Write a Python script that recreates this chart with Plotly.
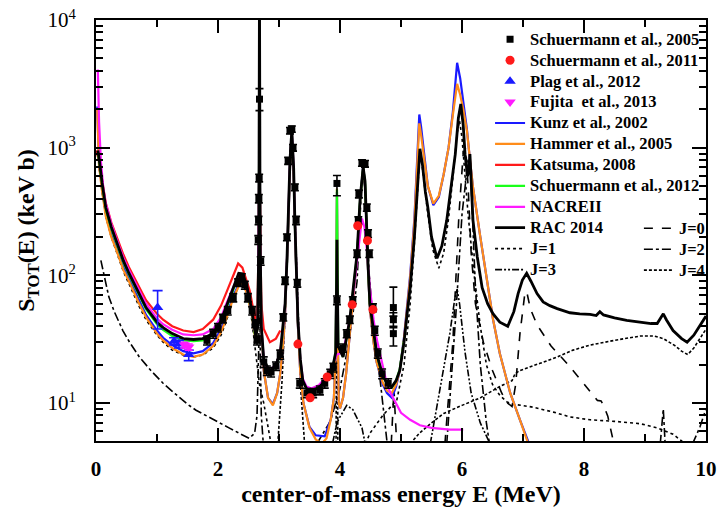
import plotly.graph_objects as go

# ---------------- data (E in MeV, S in keV b) ----------------
G = (None, None)

kunz_2002 = [(0.02, 2100), (0.05, 760), (0.1, 480), (0.16, 305), (0.25, 210), (0.33, 168), (0.45, 116),
             (0.54, 95), (0.7, 64), (0.82, 49), (1.0, 37), (1.1, 32.5), (1.25, 28.5), (1.43, 25.5), (1.6, 24.5),
             (1.75, 25.5), (1.92, 29.5), (2.05, 38), (2.13, 47), (2.25, 69), (2.36, 89), (2.42, 87), (2.48, 72),
             (2.55, 51), (2.62, 31), (2.65, 40), (2.67, 300), (2.68, 1800), (2.69, 300), (2.71, 40), (2.75, 18),
             (2.82, 11), (2.90, 9.8), (2.97, 12), (3.02, 17), (3.07, 30), (3.10, 50), (3.13, 110), (3.15, 230),
             (3.18, 700), (3.21, 1250), (3.24, 600), (3.26, 230), (3.29, 80), (3.31, 40), (3.35, 17), (3.40, 10),
             (3.5, 6.5), (3.6, 5.6), (3.75, 5.5), (3.85, 7.5), (3.9, 11), (3.93, 25), (3.945, 200), (3.95, 450),
             (3.955, 200), (3.965, 30), (3.98, 10), (4.0, 9.1), (4.05, 11), (4.1, 17), (4.16, 35), (4.22, 70),
             (4.28, 140), (4.33, 380), (4.38, 720), (4.41, 520), (4.43, 260), (4.46, 110), (4.49, 55), (4.55, 30),
             (4.60, 21), (4.70, 14), (4.77, 12), (4.85, 11), (4.92, 13.5), (4.98, 18), (5.05, 33), (5.10, 58),
             (5.15, 100), (5.22, 280), (5.27, 1000), (5.30, 1820), (5.33, 1450), (5.38, 850), (5.44, 500),
             (5.53, 355), (5.62, 410), (5.70, 620), (5.78, 1000), (5.85, 1900), (5.92, 4620), (5.97, 3500),
             (6.02, 2300), (6.08, 1400), (6.13, 800), (6.18, 490), (6.30, 200), (6.41, 91), (6.51, 45),
             (6.62, 24.5), (6.79, 12), (6.95, 7.4), (7.1, 4.8)]

hammer_2005 = [(0.02, 2000), (0.05, 720), (0.1, 455), (0.16, 290), (0.25, 200), (0.33, 160), (0.45, 110),
               (0.54, 90), (0.7, 61), (0.82, 47), (1.0, 35), (1.1, 31), (1.25, 27), (1.43, 24), (1.6, 23),
               (1.75, 24), (1.92, 28), (2.05, 36), (2.13, 45), (2.25, 66), (2.36, 87), (2.42, 85), (2.48, 70),
               (2.55, 50), (2.62, 30), (2.65, 40), (2.67, 300), (2.68, 1500), (2.69, 300), (2.71, 40), (2.75, 18),
               (2.82, 11), (2.90, 9.6), (2.97, 12), (3.02, 17), (3.07, 30), (3.10, 50), (3.13, 110), (3.15, 230),
               (3.18, 700), (3.21, 1200), (3.24, 600), (3.26, 230), (3.29, 80), (3.31, 40), (3.35, 17), (3.40, 10),
               (3.5, 6.4), (3.6, 5.2), (3.7, 4.8), (3.78, 5.3), (3.85, 7.5), (3.9, 11), (3.93, 25), (3.945, 200),
               (3.95, 480), (3.955, 200), (3.965, 30), (3.98, 10), (4.0, 9.1), (4.05, 11), (4.1, 17), (4.16, 35),
               (4.22, 70), (4.28, 140), (4.33, 380), (4.38, 700), (4.41, 520), (4.43, 260), (4.46, 110),
               (4.49, 55), (4.55, 30), (4.60, 21), (4.70, 14.5), (4.77, 12.5), (4.85, 12), (4.92, 14), (4.98, 18),
               (5.05, 32), (5.10, 55), (5.15, 95), (5.22, 260), (5.27, 900), (5.30, 1550), (5.33, 1250),
               (5.38, 800), (5.44, 500), (5.53, 365), (5.62, 420), (5.70, 620), (5.78, 1000), (5.85, 1800),
               (5.92, 3160), (5.97, 2600), (6.02, 2000), (6.08, 1360), (6.13, 790), (6.18, 490), (6.30, 200),
               (6.41, 91), (6.51, 45), (6.62, 24.5), (6.79, 12), (6.95, 7.4), (7.08, 4.9), (7.12, 4.6)]

katsuma_2008 = [(0.0, 950), (0.05, 800), (0.1, 560), (0.16, 370), (0.25, 260), (0.33, 205), (0.45, 145),
                (0.54, 116), (0.7, 82), (0.82, 64), (1.0, 50), (1.1, 45), (1.25, 40), (1.43, 37), (1.6, 36),
                (1.75, 38), (1.92, 45), (2.05, 58), (2.13, 72), (2.25, 100), (2.33, 124), (2.40, 115), (2.46, 95),
                (2.52, 76), (2.61, 45), (2.65, 60), (2.67, 300), (2.68, 1500), (2.69, 300), (2.71, 60),
                (2.75, 38), (2.85, 30), (2.95, 32), (3.02, 37)]

schuermann_2012 = [(0.03, 900), (0.05, 800), (0.1, 515), (0.16, 330), (0.25, 232), (0.33, 181), (0.45, 126),
                   (0.54, 101), (0.7, 71), (0.82, 54.5), (1.0, 41.5), (1.1, 37.5), (1.25, 33.5), (1.43, 31),
                   (1.6, 30.5), (1.75, 31), (1.92, 34), (2.05, 43), (2.13, 54), (2.25, 78), (2.34, 100),
                   (2.40, 99), (2.46, 84), (2.55, 52), (2.62, 31), (2.65, 40), (2.67, 250), (2.68, 1600),
                   (2.69, 250), (2.71, 40), (2.75, 21), (2.85, 17), (2.95, 19.5), (3.02, 24), (3.07, 39),
                   (3.10, 58), (3.13, 125), (3.15, 260), (3.18, 780), (3.21, 1330), (3.24, 680), (3.26, 260),
                   (3.29, 97), (3.31, 44), (3.35, 21.5), (3.39, 15), (3.45, 13), (3.53, 12.4), (3.65, 13),
                   (3.79, 15.3), (3.88, 19), (3.93, 25), (3.945, 200), (3.95, 470), (3.955, 200), (3.97, 28),
                   (4.05, 23), (4.16, 44), (4.22, 78), (4.28, 145), (4.33, 390), (4.38, 690), (4.41, 540),
                   (4.43, 265), (4.46, 118), (4.49, 59), (4.55, 34), (4.60, 24), (4.70, 16.3), (4.77, 14.2),
                   (4.85, 13.3), (4.92, 15), (4.98, 18.5), (5.05, 31)]

nacre2 = [(0.03, 4100), (0.05, 1600), (0.08, 790), (0.12, 480), (0.16, 365), (0.25, 255), (0.33, 197),
          (0.45, 137), (0.54, 110), (0.7, 77), (0.82, 60), (1.0, 46), (1.1, 41.5), (1.25, 37.5), (1.43, 34.5),
          (1.6, 34), (1.75, 34.5), (1.92, 38), (2.05, 47), (2.13, 59), (2.25, 82), (2.34, 102), (2.40, 100),
          (2.46, 85), (2.55, 54), (2.62, 33), (2.65, 40), (2.67, 250), (2.68, 1400), (2.69, 250), (2.71, 40),
          (2.75, 22), (2.82, 17.5), (2.95, 20), (3.02, 25), (3.07, 40), (3.10, 60), (3.13, 130), (3.15, 270),
          (3.18, 800), (3.21, 1350), (3.24, 700), (3.26, 270), (3.29, 100), (3.31, 45), (3.35, 22),
          (3.39, 15.5), (3.45, 13.5), (3.53, 13), (3.65, 13.8), (3.79, 16.3), (3.88, 20), (3.95, 24),
          (4.05, 25), (4.16, 45), (4.22, 75), (4.28, 130), (4.32, 210), (4.36, 279), (4.40, 240), (4.44, 160),
          (4.49, 80), (4.55, 45), (4.60, 32), (4.70, 19), (4.77, 14), (4.82, 12.2), (4.87, 11), (4.95, 9.5),
          (5.0, 8.4), (5.15, 7.4), (5.31, 6.7), (5.5, 6.4), (5.64, 6.3), (5.8, 6.2), (6.02, 6.2)]

rac_2014 = [(0.03, 950), (0.05, 830), (0.1, 530), (0.16, 340), (0.25, 240), (0.33, 187), (0.45, 130),
            (0.54, 104), (0.7, 73), (0.82, 56), (1.0, 43), (1.1, 39), (1.25, 35), (1.43, 32), (1.6, 31.5),
            (1.75, 32), (1.92, 35), (2.05, 44), (2.13, 56), (2.25, 80), (2.34, 104), (2.40, 103), (2.46, 87),
            (2.55, 55), (2.62, 33), (2.65, 40), (2.67, 200), (2.68, 20000), (2.69, 200), (2.71, 40), (2.75, 22),
            (2.85, 17.5), (2.95, 20), (3.02, 24.5), (3.07, 40), (3.10, 60), (3.13, 130), (3.15, 270),
            (3.18, 800), (3.21, 1360), (3.24, 700), (3.26, 270), (3.29, 100), (3.31, 45), (3.35, 22),
            (3.39, 15), (3.45, 13), (3.53, 12.6), (3.65, 13.2), (3.79, 15.5), (3.88, 19), (3.93, 25),
            (3.945, 100), (3.95, 190), (3.955, 100), (3.97, 28), (4.05, 23), (4.16, 45), (4.22, 80),
            (4.28, 148), (4.33, 400), (4.38, 700), (4.41, 550), (4.43, 270), (4.46, 120), (4.49, 60),
            (4.55, 35), (4.60, 24.5), (4.70, 16.5), (4.77, 14.3), (4.85, 13.4), (4.92, 15), (4.98, 18),
            (5.05, 30), (5.10, 50), (5.15, 80), (5.22, 200), (5.27, 550), (5.31, 980), (5.35, 750),
            (5.40, 450), (5.44, 340), (5.50, 200), (5.59, 136), (5.67, 170), (5.75, 270), (5.82, 480),
            (5.89, 890), (5.94, 1700), (5.98, 2200), (6.02, 1500), (6.05, 890), (6.09, 600), (6.11, 650),
            (6.13, 890), (6.15, 500), (6.18, 270), (6.25, 140), (6.33, 80), (6.42, 60), (6.51, 50),
            (6.62, 43), (6.75, 40), (6.85, 52), (6.92, 72), (6.99, 92), (7.06, 104), (7.13, 90), (7.23, 72),
            (7.33, 62), (7.44, 58), (7.56, 55), (7.77, 51), (7.93, 50), (8.1, 49.5), (8.2, 48.5), (8.26, 52),
            (8.32, 49), (8.5, 46.5), (8.7, 44.5), (8.92, 43), (9.1, 42), (9.2, 42), (9.26, 47), (9.3, 50),
            (9.35, 45), (9.46, 37), (9.6, 32), (9.69, 30), (9.8, 34), (9.95, 44), (10.0, 48)]

j0 = [(4.84, 4.8), (4.87, 9), (4.885, 13), (4.9, 9), (4.93, 4.8), G,
      (5.72, 4.8), (5.85, 30), (5.95, 300), (6.02, 900), (6.06, 1000), (6.1, 500), (6.15, 150), (6.22, 60),
      (6.35, 30), (6.5, 18), (6.65, 12), (6.75, 10), (6.82, 9.4), (6.88, 14), (6.95, 35), (7.03, 72),
      (7.06, 75), (7.12, 55), (7.23, 41), (7.46, 28), (7.74, 20), (8.07, 13), (8.22, 10.5), (8.28, 10.4),
      (8.32, 9.6), (8.39, 7.9), (8.49, 4.8)]

j1 = [(0.03, 950), (0.05, 700), (0.1, 450), (0.16, 290), (0.25, 200), (0.33, 155), (0.45, 107), (0.54, 86),
      (0.7, 58), (0.82, 45), (1.0, 34), (1.1, 30), (1.25, 26), (1.43, 23.8), (1.6, 23), (1.75, 23.8),
      (1.92, 27), (2.05, 34), (2.13, 43), (2.25, 64), (2.36, 88), (2.42, 86), (2.48, 70), (2.55, 46),
      (2.62, 25), (2.68, 14), (2.75, 10), (2.82, 6.5), (2.87, 4.8), G,
      (4.42, 4.8), (4.49, 5.8), (4.7, 8), (4.93, 10.5), (5.05, 20), (5.15, 60), (5.22, 180), (5.27, 500),
      (5.31, 920), (5.35, 700), (5.40, 420), (5.44, 300), (5.52, 160), (5.62, 114), (5.70, 150), (5.78, 280),
      (5.86, 650), (5.92, 1300), (5.96, 1620), (6.0, 1200), (6.05, 600), (6.1, 300), (6.2, 100), (6.3, 40),
      (6.4, 20), (6.5, 14), (6.62, 11.5), (6.74, 10.2), (6.85, 9.8), (7.0, 9.5), (7.16, 9.3), (7.5, 8.5),
      (7.77, 7.8), (8.1, 7.4), (8.5, 7.2), (8.92, 6.9), (9.2, 6.4), (9.46, 5.7), (9.6, 5.1), (9.66, 4.8)]

j2 = [(0.08, 131), (0.14, 95), (0.21, 68), (0.3, 52), (0.44, 37), (0.55, 30), (0.71, 23), (0.9, 18),
      (1.1, 14.3), (1.3, 11.8), (1.5, 9.8), (1.64, 8.8), (1.9, 7.5), (2.18, 6.4), (2.35, 5.8), (2.51, 5.3),
      (2.6, 5.8), (2.64, 8), (2.67, 30), (2.68, 3000), (2.69, 30), (2.71, 8), (2.74, 5), (2.77, 4.5), G,
      (3.62, 4.8), (3.84, 7.2), (4.0, 13), (4.11, 24.5), (4.2, 45), (4.28, 90), (4.33, 300), (4.37, 650),
      (4.41, 480), (4.44, 270), (4.48, 100), (4.55, 40), (4.61, 24.5), (4.7, 10), (4.77, 5), (4.8, 4.5), G,
      (5.75, 4.8), (5.9, 50), (6.0, 300), (6.1, 800), (6.13, 890), (6.16, 400), (6.22, 80), (6.3, 20),
      (6.4, 7), (6.45, 4.8), G,
      (9.25, 4.8), (9.3, 9), (9.33, 4.8), G,
      (9.78, 4.8), (9.9, 6.5), (10.0, 9)]

j3 = [(3.88, 4.9), (3.95, 7), (4.0, 7.8), (4.11, 9.6), (4.21, 8.9), (4.36, 6.4), (4.41, 4.9), G,
      (5.48, 4.8), (5.6, 10), (5.7, 18), (5.8, 35), (5.88, 65), (5.92, 78), (5.96, 60), (6.05, 25),
      (6.15, 12), (6.3, 7), (6.46, 4.8)]

j4 = [(2.98, 4.8), (3.05, 15), (3.1, 50), (3.15, 250), (3.18, 750), (3.21, 1300), (3.24, 650), (3.27, 220),
      (3.31, 50), (3.36, 12), (3.42, 4.8), G,
      (3.935, 4.8), (3.945, 60), (3.95, 180), (3.955, 60), (3.965, 4.8), G,
      (5.15, 4.8), (5.3, 5.8), (5.5, 7), (5.7, 8.3), (6.0, 9.6), (6.3, 11), (6.62, 13.5), (6.82, 15),
      (6.87, 17), (6.95, 18), (7.28, 20.5), (7.56, 23), (7.82, 26), (8.1, 28.5), (8.5, 31), (8.92, 33.5),
      (9.15, 33.5), (9.3, 32), (9.5, 28), (9.6, 25.5), (9.7, 24), (9.8, 27), (9.9, 32), (10.0, 38)]

# experimental data: (E, S, err+, err-)
schuermann_2005 = [(1.82, 31, 2.5, 2.5), (1.92, 35, 2.8, 2.8), (2.0, 39, 3, 3), (2.08, 46, 3.5, 3.5),
                   (2.16, 53, 4, 4), (2.25, 67, 5, 5), (2.33, 88, 6, 6), (2.39, 96, 7, 7), (2.44, 84, 6, 6),
                   (2.49, 67, 5, 5), (2.56, 53, 4, 4), (2.61, 42, 3, 3), (2.64, 31, 2.5, 2.5),
                   (2.66, 190, 15, 15), (2.665, 270, 20, 20), (2.67, 400, 30, 30), (2.675, 580, 40, 40),
                   (2.68, 2400, 500, 450), (2.70, 130, 10, 10), (2.75, 21, 2, 2), (2.8, 18, 1.5, 1.5),
                   (2.87, 17.5, 1.5, 1.5), (2.95, 19.5, 1.5, 1.5), (3.02, 24, 2, 2), (3.07, 47, 3, 3),
                   (3.10, 91, 6, 6), (3.13, 199, 12, 12), (3.15, 790, 50, 50), (3.18, 1360, 80, 80),
                   (3.21, 1400, 80, 80), (3.23, 1000, 60, 60), (3.26, 490, 30, 30), (3.28, 270, 20, 20),
                   (3.30, 87, 6, 6), (3.34, 14.3, 1.2, 1.2), (3.46, 12, 1, 1), (3.56, 12, 1, 1),
                   (3.67, 12.6, 1, 1), (3.75, 14.3, 1.2, 1.2), (3.84, 17, 1.4, 1.4), (3.89, 19, 1.5, 1.5),
                   (3.95, 525, 80, 105), (3.95, 64, 5, 5), (4.05, 27, 2, 2), (4.11, 35, 2.5, 2.5),
                   (4.16, 45, 3, 3), (4.21, 64, 4, 4), (4.28, 148, 10, 10), (4.30, 270, 18, 18),
                   (4.31, 435, 30, 30), (4.36, 760, 45, 45), (4.41, 750, 45, 45), (4.44, 340, 22, 22),
                   (4.46, 213, 15, 15), (4.48, 148, 10, 10), (4.54, 56, 4, 4), (4.57, 37, 3, 3),
                   (4.62, 24.5, 2, 2), (4.69, 17, 1.5, 1.5), (4.79, 14.3, 1.2, 1.2), (4.875, 56, 25, 8),
                   (4.875, 45, 6, 6), (4.875, 35, 5, 7)]

schuermann_2011 = [(3.31, 29), (3.51, 11), (3.79, 16), (4.20, 59), (4.29, 245), (4.45, 187), (4.54, 54)]

plag_2012 = [(1.01, 56, 20, 18), (1.28, 30.5, 2, 2), (1.36, 29, 2, 2), (1.52, 24, 2, 2.5)]

fujita_2013 = [(1.45, 28.5, 1.5, 1.5), (1.52, 27.5, 1.5, 1.5)]

x_tick_vals = [0, 2, 4, 6, 8, 10]
x_tick_text = ["0", "2", "4", "6", "8", "10"]
y_tick_vals = [10, 100, 1000, 10000]
y_tick_text = ["10<sup>1</sup>", "10<sup>2</sup>", "10<sup>3</sup>", "10<sup>4</sup>"]
y_minor_vals = [6, 7, 8, 9, 20, 30, 40, 50, 60, 70, 80, 90, 200, 300, 400, 500, 600, 700, 800, 900,
                2000, 3000, 4000, 5000, 6000, 7000, 8000, 9000]

FONT = "Liberation Serif, Times New Roman, serif"
LEG_TEXT = "<span style='font-size:16.5px'><b>%s</b></span>"


def col(rows, i):
    return [r[i] for r in rows]


fig = go.Figure()

# theoretical J components (thin black)
j_styles = [
    ("J=0", j0, "dash", "legend2", 30),
    ("J=1", j1, "dot", "legend", 11),
    ("J=2", j2, "dashdot", "legend2", 31),
    ("J=3", j3, "7px,2px,2px,2px,2px,2px", "legend", 12),
    ("J=4", j4, "3px,2px", "legend2", 32),
]
for name, rows, dash, leg, rank in j_styles:
    fig.add_trace(go.Scatter(x=col(rows, 0), y=col(rows, 1), mode="lines", name=LEG_TEXT % name,
                             line=dict(color="black", width=1.6, dash=dash), connectgaps=False,
                             legend=leg, legendrank=rank))

models = [
    ("Kunz et al., 2002", kunz_2002, "#1a1aff", 2.2, 5),
    ("Hammer et al., 2005", hammer_2005, "#ff8c1a", 2.2, 6),
    ("Katsuma, 2008", katsuma_2008, "#ff1a1a", 2.2, 7),
    ("Schuermann et al., 2012", schuermann_2012, "#1aff1a", 2.2, 8),
    ("NACREII", nacre2, "#ff1aff", 2.2, 9),
    ("RAC 2014", rac_2014, "black", 2.8, 10),
]
for name, rows, color, w, rank in models:
    fig.add_trace(go.Scatter(x=col(rows, 0), y=col(rows, 1), mode="lines", name=LEG_TEXT % name,
                             line=dict(color=color, width=w), legendrank=rank))

# experimental points
fig.add_trace(go.Scatter(x=col(schuermann_2005, 0), y=col(schuermann_2005, 1), mode="markers",
                         name=LEG_TEXT % "Schuermann et al., 2005", legendrank=1,
                         marker=dict(symbol="square", size=7, color="black"),
                         error_y=dict(type="data", array=col(schuermann_2005, 2),
                                      arrayminus=col(schuermann_2005, 3), color="black", thickness=1.6, width=4)))
fig.add_trace(go.Scatter(x=col(schuermann_2011, 0), y=col(schuermann_2011, 1), mode="markers",
                         name=LEG_TEXT % "Schuermann et al., 2011", legendrank=2,
                         marker=dict(symbol="circle", size=9, color="#ff1a1a")))
fig.add_trace(go.Scatter(x=col(plag_2012, 0), y=col(plag_2012, 1), mode="markers",
                         name=LEG_TEXT % "Plag et al., 2012", legendrank=3,
                         marker=dict(symbol="triangle-up", size=10, color="#1a1aff"),
                         error_y=dict(type="data", array=col(plag_2012, 2), arrayminus=col(plag_2012, 3),
                                      color="#1a1aff", thickness=1.6, width=5)))
fig.add_trace(go.Scatter(x=col(fujita_2013, 0), y=col(fujita_2013, 1), mode="markers",
                         name=LEG_TEXT % "Fujita  et al., 2013", legendrank=4,
                         marker=dict(symbol="triangle-down", size=10, color="#ff1aff"),
                         error_y=dict(type="data", array=col(fujita_2013, 2), arrayminus=col(fujita_2013, 3),
                                      color="#ff1aff", thickness=1.6, width=4)))

axis_common = dict(showline=True, linewidth=2, linecolor="black", mirror="allticks", ticks="inside",
                   tickwidth=2, tickcolor="black", showgrid=False, zeroline=False)

fig.update_layout(
    width=717, height=518,
    margin=dict(l=96, r=11, t=20, b=77, autoexpand=False),
    paper_bgcolor="white", plot_bgcolor="white",
    font=dict(family=FONT, color="black"),
    legend=dict(x=0.646, y=0.991, xanchor="left", yanchor="top", bgcolor="rgba(0,0,0,0)",
                font=dict(family=FONT, size=13.8, color="black"), tracegroupgap=0, traceorder="normal"),
    legend2=dict(x=0.890, y=0.542, xanchor="left", yanchor="top", bgcolor="rgba(0,0,0,0)",
                 font=dict(family=FONT, size=13.8, color="black"), tracegroupgap=0),
    xaxis=dict(range=[0, 10], tickmode="array", tickvals=x_tick_vals,
               ticktext=["<b>%s</b>" % t for t in x_tick_text], ticklen=13,
               minor=dict(tickmode="array", tickvals=[1, 3, 5, 7, 9], ticks="inside", ticklen=7,
                          tickwidth=2, tickcolor="black"),
               tickfont=dict(family=FONT, size=21, color="black"), ticklabelstandoff=8,
               title=dict(text="<b>center-of-mass energy E (MeV)</b>", font=dict(family=FONT, size=24),
                          standoff=4),
               **axis_common),
    yaxis=dict(type="log", range=[0.7033, 4], tickmode="array", tickvals=y_tick_vals, ticktext=y_tick_text,
               ticklen=14,
               minor=dict(tickmode="array", tickvals=y_minor_vals, ticks="inside", ticklen=7, tickwidth=2,
                          tickcolor="black"),
               tickfont=dict(family=FONT, size=21, color="black"), ticklabelstandoff=14,
               title=dict(text="<b>S<sub>TOT</sub>(E) (keV b)</b>", font=dict(family=FONT, size=24),
                          standoff=6),
               **axis_common),
)

fig.write_html("out.html")
